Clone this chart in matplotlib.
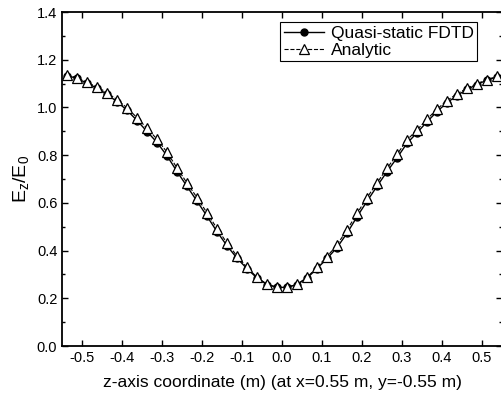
import matplotlib
matplotlib.use("Agg")
import matplotlib.pyplot as plt
from matplotlib.ticker import MultipleLocator

plt.rcParams["font.family"] = ["Liberation Sans", "DejaVu Sans"]
plt.rcParams["mathtext.default"] = "regular"

# sample positions along z (m)
z = [
    -0.5375, -0.5125, -0.4875, -0.4625, -0.4375, -0.4125, -0.3875, -0.3625,
    -0.3375, -0.3125, -0.2875, -0.2625, -0.2375, -0.2125, -0.1875, -0.1625,
    -0.1375, -0.1125, -0.0875, -0.0625, -0.0375, -0.0125,
    0.0125, 0.0375, 0.0625, 0.0875, 0.1125, 0.1375, 0.1625, 0.1875,
    0.2125, 0.2375, 0.2625, 0.2875, 0.3125, 0.3375, 0.3625, 0.3875,
    0.4125, 0.4375, 0.4625, 0.4875, 0.5125, 0.5375,
]

analytic = [
    1.135, 1.125, 1.105, 1.086, 1.062, 1.033, 0.998, 0.957,
    0.912, 0.867, 0.812, 0.746, 0.683, 0.622, 0.558, 0.492,
    0.432, 0.377, 0.330, 0.288, 0.259, 0.246,
    0.246, 0.259, 0.288, 0.331, 0.375, 0.425, 0.487, 0.556,
    0.622, 0.684, 0.745, 0.803, 0.864, 0.906, 0.951, 0.993,
    1.029, 1.057, 1.081, 1.100, 1.117, 1.130,
]

fdtd = [
    1.133, 1.122, 1.101, 1.081, 1.055, 1.024, 0.988, 0.945,
    0.899, 0.853, 0.797, 0.731, 0.669, 0.607, 0.544, 0.479,
    0.420, 0.368, 0.324, 0.285, 0.258, 0.246,
    0.246, 0.258, 0.285, 0.325, 0.367, 0.413, 0.473, 0.542,
    0.607, 0.670, 0.731, 0.789, 0.850, 0.894, 0.940, 0.983,
    1.020, 1.050, 1.076, 1.096, 1.115, 1.128,
]

fig = plt.figure(figsize=(5.01, 4.01), dpi=100)
ax = fig.add_axes([0.124, 0.137, 0.878, 0.833])

ax.plot(z, fdtd, color="black", linestyle="-", linewidth=1.0,
        marker="o", markersize=5, markerfacecolor="black",
        markeredgecolor="black", label="Quasi-static FDTD", zorder=3)
ax.plot(z, analytic, color="black", linestyle="--", linewidth=0.8,
        marker="^", markersize=6.5, markerfacecolor="white",
        markeredgecolor="black", markeredgewidth=0.9,
        label="Analytic", zorder=4)

ax.set_xlim(-0.55, 0.55)
ax.set_ylim(0.0, 1.4)
ax.xaxis.set_major_locator(MultipleLocator(0.1))
ax.yaxis.set_major_locator(MultipleLocator(0.2))
ax.yaxis.set_minor_locator(MultipleLocator(0.1))
ax.set_xticks([-0.5, -0.4, -0.3, -0.2, -0.1, 0.0, 0.1, 0.2, 0.3, 0.4, 0.5])
ax.set_xticklabels(["-0.5", "-0.4", "-0.3", "-0.2", "-0.1", "0.0",
                    "0.1", "0.2", "0.3", "0.4", "0.5"])
ax.set_yticklabels([f"{v:.1f}" for v in ax.get_yticks()])

ax.tick_params(which="both", direction="in", top=True, right=True,
               labelsize=10.5, width=1.0)
ax.tick_params(which="major", length=4)
ax.tick_params(which="minor", length=2.5)
for spine in ax.spines.values():
    spine.set_linewidth(1.3)

ax.set_xlabel("z-axis coordinate (m) (at x=0.55 m, y=-0.55 m)",
              fontsize=12.5, labelpad=7)
ax.set_ylabel("E$_z$/E$_0$", fontsize=14, labelpad=4)

leg = ax.legend(loc="upper right", bbox_to_anchor=(0.955, 0.985),
                fontsize=12.5, frameon=True, fancybox=False,
                handlelength=2.3, handletextpad=0.4, borderpad=0.2,
                labelspacing=0.1, borderaxespad=0.3)
leg.get_frame().set_edgecolor("black")
leg.get_frame().set_linewidth(0.8)
leg.get_frame().set_alpha(1)

fig.savefig("out.png", dpi=100)
